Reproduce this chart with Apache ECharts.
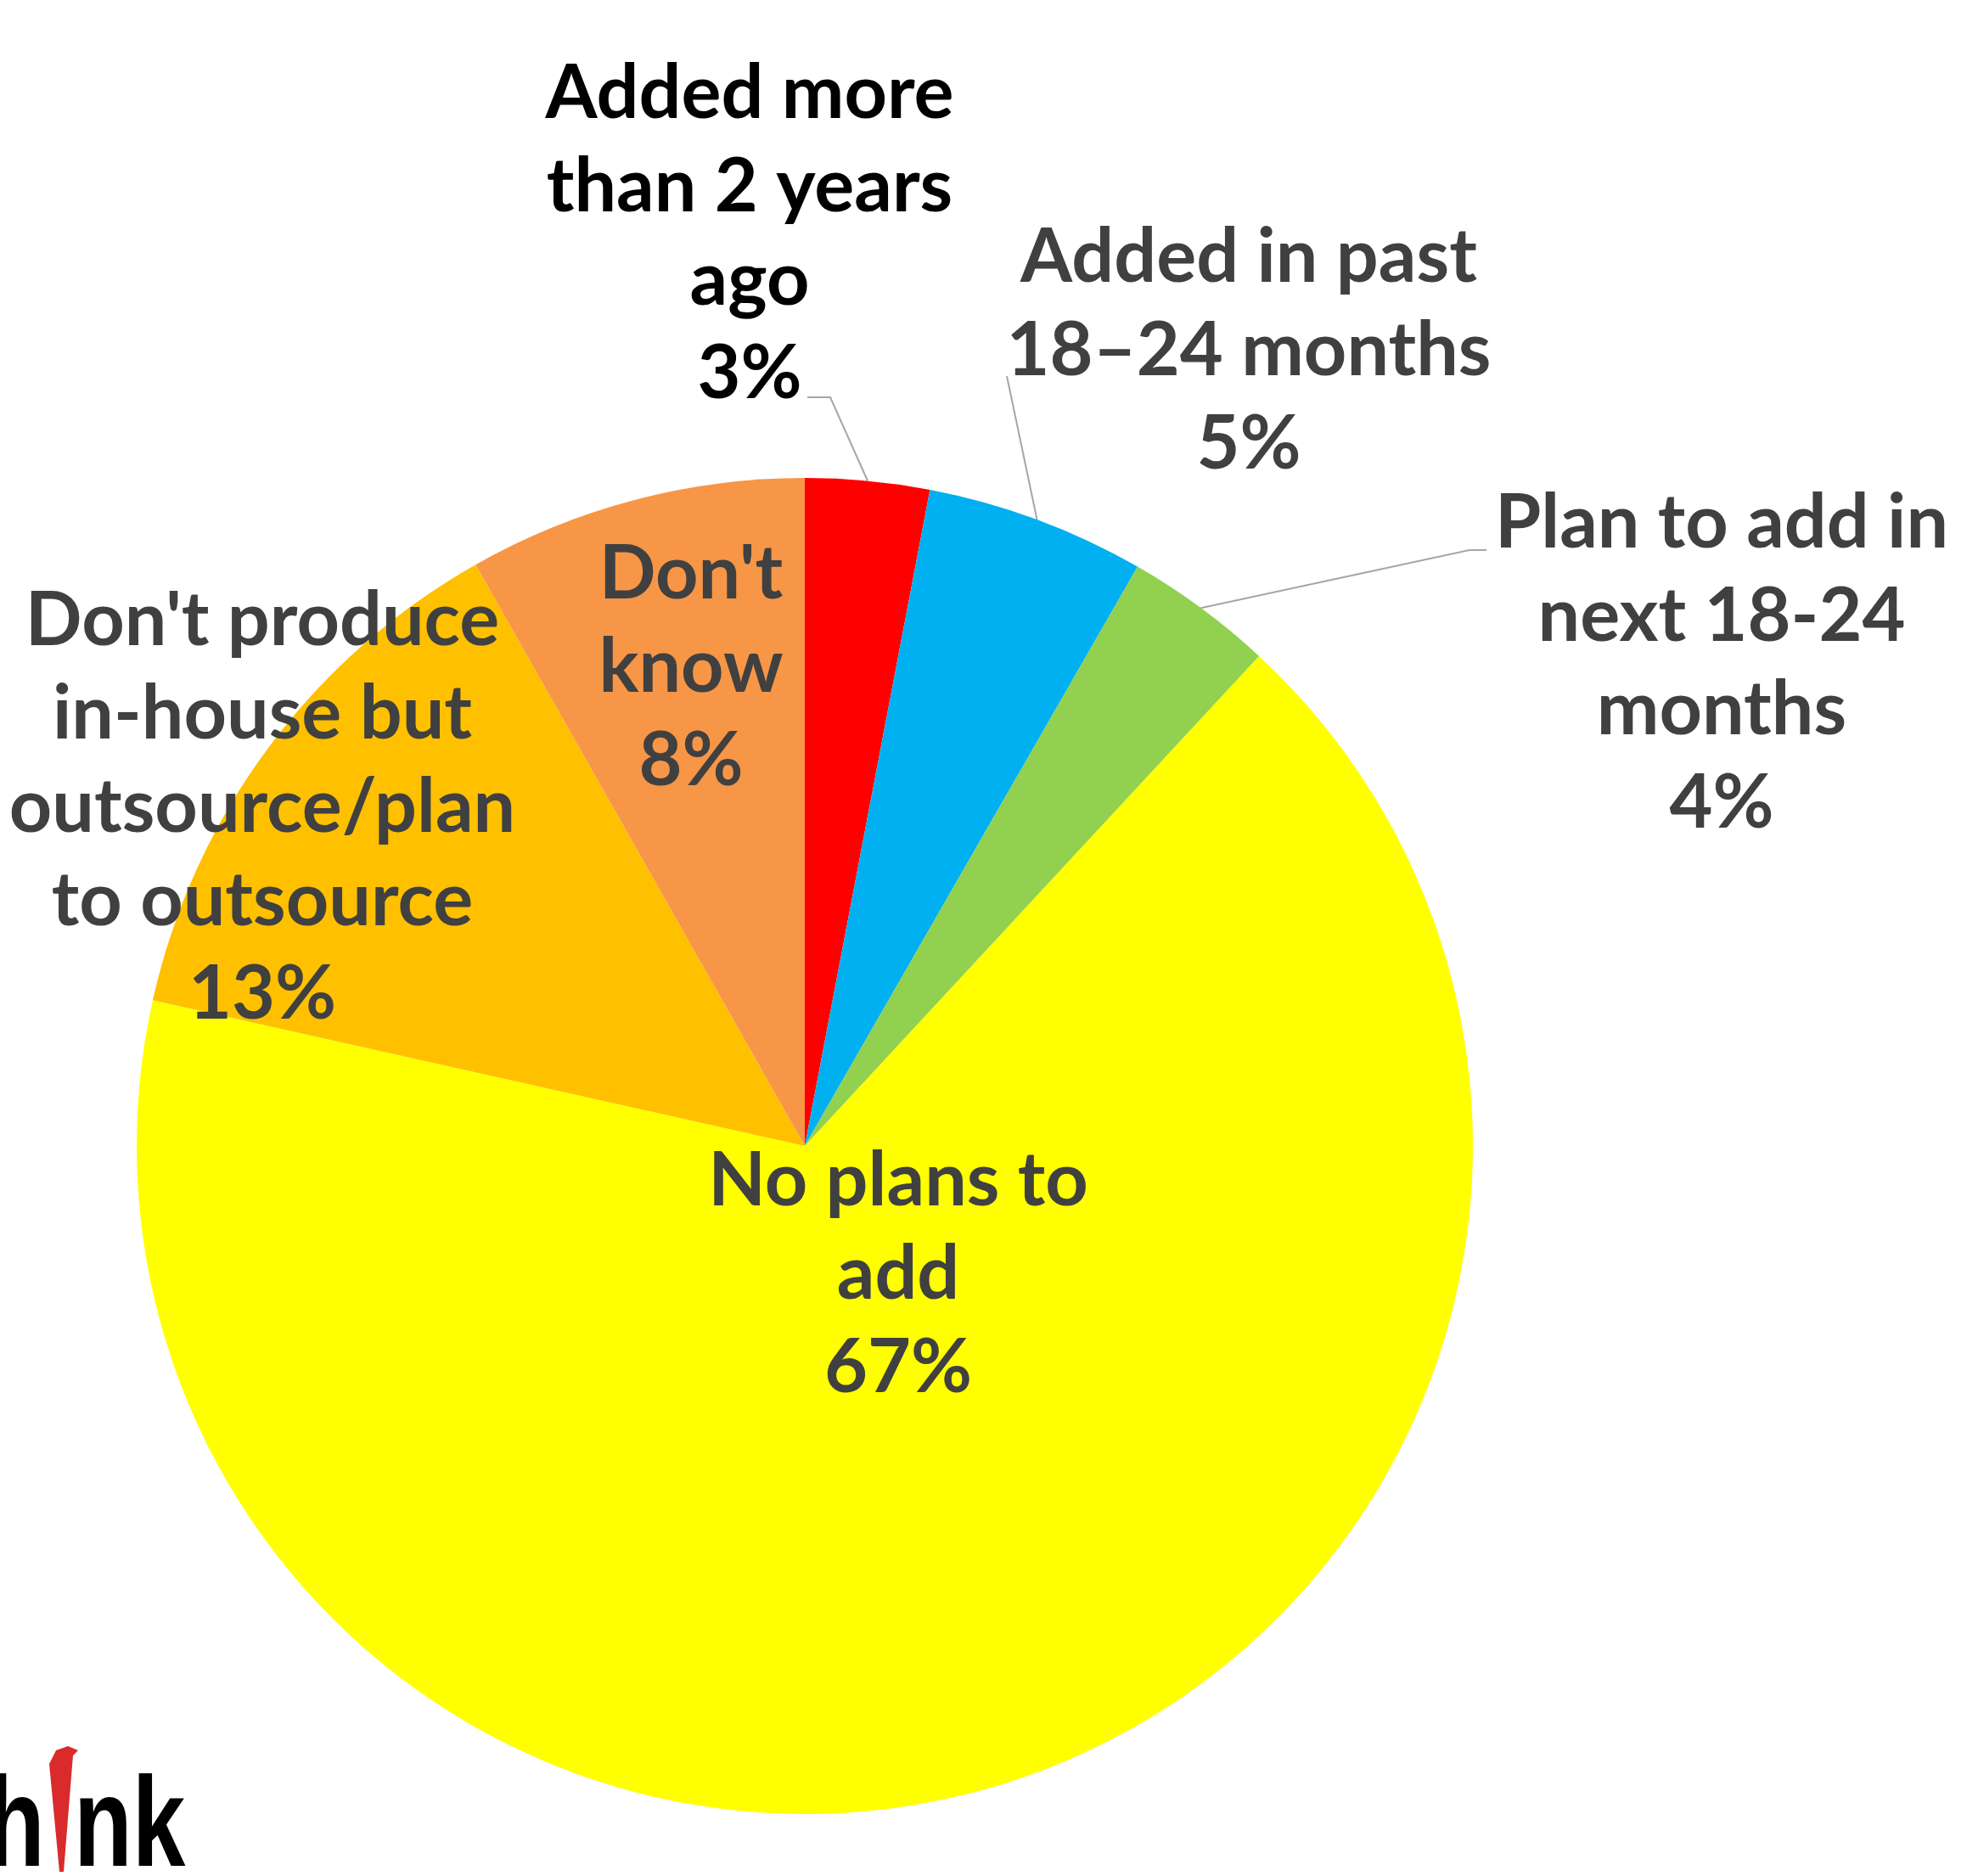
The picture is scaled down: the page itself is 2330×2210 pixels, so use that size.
<!DOCTYPE html>
<html>
<head>
<meta charset="utf-8">
<script src="https://cdn.jsdelivr.net/npm/echarts@6/dist/echarts.min.js"></script>
<style>
html,body{margin:0;padding:0;background:#fff;}
#main{width:2330px;height:2210px;}
</style>
</head>
<body>
<div id="main"></div>
<script>
const categories = [
  "Added more\nthan 2 years\nago",
  "Added in past\n18–24 months",
  "Plan to add in\nnext 18-24\nmonths",
  "No plans to\nadd",
  "Don't produce\nin-house but\noutsource/plan\nto outsource",
  "Don't\nknow"
];
const values = [3.0, 5.3, 3.6, 66.6, 13.3, 8.2];
const pctLabels = ["3%", "5%", "4%", "67%", "13%", "8%"];
const colors = ["#FF0000", "#00B0F0", "#92D050", "#FFFF00", "#FFC000", "#F79646"];

const labelPos = [
  [883, 276], [1471, 414], [2028, 782], [1058, 1502], [309, 952], [814, 787]
];
// leader-line bend points, relative to the label centre
const lineBends = [
  [[95, 192], [68, 192]],
  [[-285, 29]],
  [[-297, -134], [-277, -134]],
  null, null, null
];
const labelColors = ["#000000", "#404040", "#404040", "#404040", "#404040", "#404040"];
const showLine = [true, true, true, false, false, false];

const chart = echarts.init(document.getElementById('main'));
chart.setOption({
  animation: false,
  backgroundColor: '#ffffff',
  series: [{
    type: 'pie',
    center: [948, 1350],
    radius: [0, 787],
    startAngle: 90,
    clockwise: true,
    data: categories.map((c, i) => ({
      name: c,
      value: values[i],
      itemStyle: { color: colors[i] },
      label: { color: labelColors[i] },
      labelLine: { show: showLine[i] }
    })),
    itemStyle: { borderWidth: 0 },
    label: {
      show: true,
      position: 'outside',
      fontFamily: 'Lato',
      fontWeight: 'bold',
      fontSize: 88,
      lineHeight: 110,
      align: 'center',
      overflow: 'none',
      formatter: p => p.name + '\n' + pctLabels[p.dataIndex]
    },
    labelLine: {
      show: true,
      length: 20,
      length2: 20,
      lineStyle: { color: '#A6A6A6', width: 2 }
    },
    labelLayout: function (params) {
      const i = params.dataIndex;
      const p = labelPos[i];
      const out = { x: p[0], y: p[1], align: 'center', verticalAlign: 'middle', hideOverlap: false };
      if (lineBends[i] && params.labelLinePoints) {
        const edge = params.labelLinePoints[0];
        out.labelLinePoints = [edge].concat(lineBends[i].map(b => [p[0] + b[0], p[1] + b[1]]));
      }
      return out;
    },
    emphasis: { disabled: true }
  }],
  graphic: [
    { type: 'text', x: -16, y: 2232, scaleX: 0.75, style: { text: 'h', font: 'bold 150px "Liberation Sans"', fill: '#000', verticalAlign: 'bottom' } },
    { type: 'polygon', shape: { points: [[58, 2078], [66, 2062], [80, 2057], [92, 2062], [86, 2068], [85, 2080], [75, 2205], [70, 2205]] }, style: { fill: '#D92B2B' } },
    { type: 'text', x: 87, y: 2232, scaleX: 0.75, style: { text: 'nk', font: 'bold 150px "Liberation Sans"', fill: '#000', verticalAlign: 'bottom' } }
  ]
});
</script>
</body>
</html>
